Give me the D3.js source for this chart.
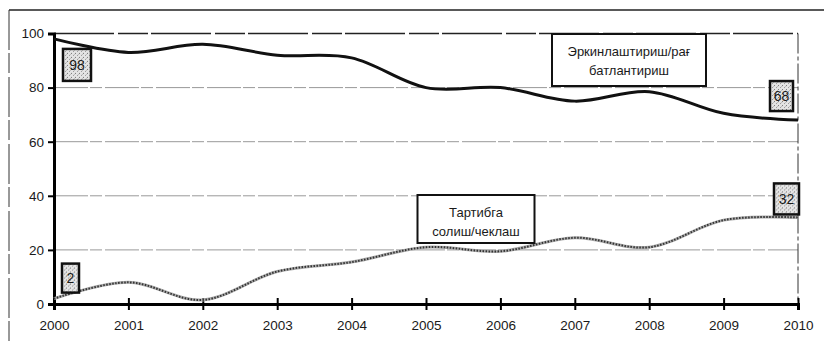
<!DOCTYPE html>
<html><head><meta charset="utf-8">
<script src="https://cdn.jsdelivr.net/npm/d3@7"></script>
<style>body{margin:0;background:#fff}svg{display:block}text{font-family:Arial,"Liberation Sans",sans-serif;fill:#1a1a1a;font-weight:normal}</style>
</head><body><svg id="c" width="824" height="345"></svg>
<script>
const years = [2000,2001,2002,2003,2004,2005,2006,2007,2008,2009,2010];
const liberal = [98,93,96,92,91,80,80,75,78.5,70.5,68];
const regulate = [2,8,1.5,12,15.5,21,19.5,24.5,21,31,32];
const yTicks = [0,20,40,60,80,100];
const liberalLabel = ["Эркинлаштириш/рағ","батлантириш"];
const regulateLabel = ["Тартибга","солиш/чеклаш"];

const svg = d3.select("#c");
const x = d3.scaleLinear().domain([2000,2010]).range([54,798]);
const y = d3.scaleLinear().domain([0,100]).range([304,33.5]);

const defs = svg.append("defs");
const pat = defs.append("pattern").attr("id","spk").attr("width",4).attr("height",4).attr("patternUnits","userSpaceOnUse");
pat.append("rect").attr("width",4).attr("height",4).attr("fill","#e4e4e4");
pat.append("rect").attr("x",0).attr("y",0).attr("width",1).attr("height",1).attr("fill","#777");
pat.append("rect").attr("x",2).attr("y",2).attr("width",1).attr("height",1).attr("fill","#999");
pat.append("rect").attr("x",3).attr("y",1).attr("width",1).attr("height",1).attr("fill","#bbb");

// outer frame
svg.append("line").attr("x1",9).attr("x2",824).attr("y1",10).attr("y2",10).attr("stroke","#222").attr("stroke-width",1.3);
svg.append("line").attr("x1",9).attr("x2",9).attr("y1",10).attr("y2",345).attr("stroke","#333").attr("stroke-width",1).attr("stroke-dasharray","40,3,20,4");

// gridlines
svg.append("g").selectAll("line").data(yTicks.filter(d=>d>0)).join("line")
  .attr("x1",x(2000)).attr("x2",x(2010)).attr("y1",d=>y(d)).attr("y2",d=>y(d))
  .attr("stroke",d=>d===100?"#222":"#999").attr("stroke-width",d=>d===100?1.3:1)
  .attr("stroke-dasharray",d=>d===100?"60,4,30,3":"34,2,12,3");
svg.append("line").attr("x1",x(2010)).attr("x2",x(2010)).attr("y1",y(100)).attr("y2",y(0))
  .attr("stroke","#333").attr("stroke-width",1).attr("stroke-dasharray","20,3,4,3");

// axes
const yAxis = svg.append("g").attr("transform",`translate(${x(2000)},0)`)
  .call(d3.axisLeft(y).tickValues(yTicks).tickSize(6).tickPadding(4));
yAxis.select(".domain").attr("stroke","#000").attr("stroke-width",3);
yAxis.selectAll(".tick line").attr("stroke","#000").attr("stroke-width",2);
yAxis.selectAll("text").attr("font-size",13.5).attr("fill","#1a1a1a").attr("font-family","Arial,'Liberation Sans',sans-serif");

const xAxis = svg.append("g").attr("transform",`translate(0,${y(0)})`)
  .call(d3.axisBottom(x).tickValues(years).tickFormat(d3.format("d")).tickSize(6).tickPadding(10));
xAxis.select(".domain").attr("stroke","#000").attr("stroke-width",3);
xAxis.selectAll(".tick line").attr("stroke","#000").attr("stroke-width",2).attr("y1",-6);
xAxis.selectAll("text").attr("font-size",13.5).attr("fill","#1a1a1a").attr("font-family","Arial,'Liberation Sans',sans-serif");

// lines
const line = d3.line().x((d,i)=>x(years[i])).y(d=>y(d)).curve(d3.curveCardinal.tension(0));
svg.append("path").datum(liberal).attr("d",line).attr("fill","none").attr("stroke","#111").attr("stroke-width",3);
svg.append("path").datum(regulate).attr("d",line).attr("fill","none").attr("stroke","#aaa").attr("stroke-width",3);
svg.append("path").datum(regulate).attr("d",line).attr("fill","none").attr("stroke","#333").attr("stroke-width",2).attr("stroke-dasharray","1.5,1.5");

// data labels
function dataLabel(val, xv, dx, dy, w, h){
  const g = svg.append("g").attr("transform",`translate(${x(xv)+dx},${y(val)+dy})`);
  g.append("rect").attr("width",w).attr("height",h).attr("fill","url(#spk)").attr("stroke","#111").attr("stroke-width",2.5);
  g.append("text").attr("x",w/2).attr("y",h/2+5).attr("text-anchor","middle").attr("font-size",14).text(d3.format("d")(val));
}
dataLabel(liberal[0], years[0], 9, 10, 28, 32);
dataLabel(liberal[10], years[10], -28, -39, 23, 30);
dataLabel(regulate[0], years[0], 8, -35, 17, 29);
dataLabel(regulate[10], years[10], -24, -34, 25, 31);

// series labels
function seriesLabel(lines, cx, top, w, h){
  const g = svg.append("g");
  g.append("rect").attr("x",cx-w/2).attr("y",top).attr("width",w).attr("height",h).attr("fill","#fff").attr("stroke","#111").attr("stroke-width",2);
  g.selectAll("text").data(lines).join("text").attr("x",cx).attr("y",(d,i)=>top+22+i*19)
    .attr("text-anchor","middle").attr("font-size",13).text(d=>d);
}
seriesLabel(liberalLabel, 629, 34, 154, 52);
seriesLabel(regulateLabel, 476, 195, 117, 48);
</script></body></html>
